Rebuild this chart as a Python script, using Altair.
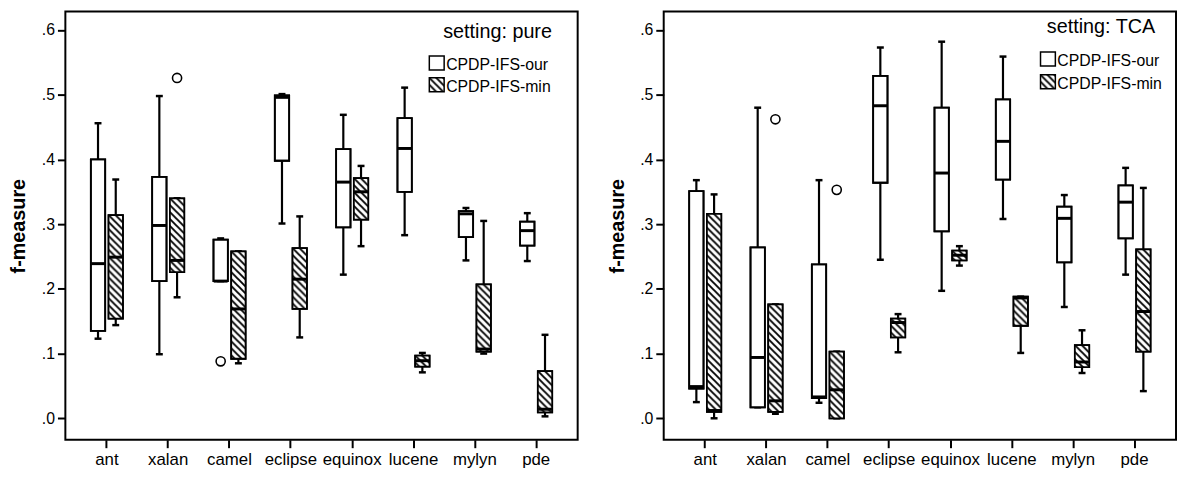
import base64
import altair as alt
import pandas as pd

projects = ["ant", "xalan", "camel", "eclipse", "equinox", "lucene", "mylyn", "pde"]
methods = ["CPDP-IFS-our", "CPDP-IFS-min"]

# ---- setting: pure ----
pure_our_lo = [0.123, 0.099, 0.212, 0.301, 0.222, 0.283, 0.244, 0.243]
pure_our_q1 = [0.135, 0.212, 0.212, 0.398, 0.295, 0.350, 0.280, 0.267]
pure_our_med = [0.239, 0.298, 0.212, 0.496, 0.365, 0.417, 0.316, 0.290]
pure_our_q3 = [0.400, 0.373, 0.276, 0.499, 0.416, 0.464, 0.320, 0.304]
pure_our_hi = [0.456, 0.498, 0.278, 0.501, 0.469, 0.511, 0.325, 0.317]

pure_min_lo = [0.144, 0.187, 0.085, 0.125, 0.266, 0.071, 0.100, 0.003]
pure_min_q1 = [0.154, 0.226, 0.092, 0.169, 0.307, 0.080, 0.103, 0.009]
pure_min_med = [0.249, 0.244, 0.169, 0.215, 0.350, 0.089, 0.107, 0.014]
pure_min_q3 = [0.314, 0.340, 0.258, 0.263, 0.371, 0.097, 0.207, 0.073]
pure_min_hi = [0.369, 0.340, 0.258, 0.312, 0.390, 0.101, 0.305, 0.129]

pure_out_project = ["xalan", "camel"]
pure_out_method = ["CPDP-IFS-min", "CPDP-IFS-our"]
pure_out_value = [0.526, 0.088]

# ---- setting: TCA ----
tca_our_lo = [0.025, 0.017, 0.024, 0.245, 0.197, 0.308, 0.172, 0.222]
tca_our_q1 = [0.046, 0.017, 0.031, 0.364, 0.289, 0.369, 0.241, 0.278]
tca_our_med = [0.049, 0.094, 0.033, 0.483, 0.379, 0.428, 0.309, 0.334]
tca_our_q3 = [0.351, 0.264, 0.238, 0.529, 0.480, 0.493, 0.327, 0.360]
tca_our_hi = [0.368, 0.480, 0.368, 0.573, 0.582, 0.559, 0.345, 0.387]

tca_min_lo = [0.000, 0.007, 0.000, 0.102, 0.236, 0.101, 0.070, 0.042]
tca_min_q1 = [0.010, 0.010, 0.000, 0.125, 0.244, 0.143, 0.079, 0.103]
tca_min_med = [0.012, 0.027, 0.044, 0.148, 0.252, 0.186, 0.087, 0.165]
tca_min_q3 = [0.316, 0.176, 0.103, 0.154, 0.259, 0.188, 0.113, 0.261]
tca_min_hi = [0.346, 0.176, 0.103, 0.161, 0.266, 0.188, 0.136, 0.356]

tca_out_project = ["xalan", "camel"]
tca_out_method = ["CPDP-IFS-min", "CPDP-IFS-min"]
tca_out_value = [0.462, 0.353]

FONT = "Liberation Sans"

hatch_svg = (
    '<svg xmlns="http://www.w3.org/2000/svg">'
    '<defs><pattern id="h" width="7" height="7" patternUnits="userSpaceOnUse">'
    '<rect width="7" height="7" fill="white"/>'
    '<path d="M-1,-1L8,8M-8,-1L1,8M6,-1L15,8" stroke="black" stroke-width="1.9"/>'
    '</pattern></defs>'
    '<rect width="100%" height="100%" fill="url(#h)"/></svg>'
)
hatch_uri = "data:image/svg+xml;base64," + base64.b64encode(hatch_svg.encode()).decode()


def make_df(our, mn):
    rows = []
    for m, stats in zip(methods, [our, mn]):
        lo, q1, med, q3, hi = stats
        for i, p in enumerate(projects):
            rows.append(dict(project=p, method=m, lo=lo[i], q1=q1[i], med=med[i], q3=q3[i], hi=hi[i]))
    return pd.DataFrame(rows)


pure_df = make_df(
    (pure_our_lo, pure_our_q1, pure_our_med, pure_our_q3, pure_our_hi),
    (pure_min_lo, pure_min_q1, pure_min_med, pure_min_q3, pure_min_hi),
)
tca_df = make_df(
    (tca_our_lo, tca_our_q1, tca_our_med, tca_our_q3, tca_our_hi),
    (tca_min_lo, tca_min_q1, tca_min_med, tca_min_q3, tca_min_hi),
)
pure_out = pd.DataFrame(dict(project=pure_out_project, method=pure_out_method, value=pure_out_value))
tca_out = pd.DataFrame(dict(project=tca_out_project, method=tca_out_method, value=tca_out_value))

W, H = 518, 433
y_scale = alt.Scale(domain=[-0.0332, 0.6286], nice=False, zero=False)
x_scale = alt.Scale(paddingInner=0, paddingOuter=0.177)
xo_scale = alt.Scale(paddingInner=0.19, paddingOuter=0.825)

x_axis = alt.Axis(
    title=None, labelAngle=0, domain=False, ticks=True, tickSize=8, tickWidth=2,
    tickColor="black", labelColor="black", labelFont=FONT, labelFontSize=17, labelPadding=4,
)
y_axis = alt.Axis(
    title="f-measure", values=[0, 0.1, 0.2, 0.3, 0.4, 0.5, 0.6],
    labelExpr="replace(format(datum.value, '.1f'), '0.', '.')",
    domain=False, grid=False, tickSize=8, tickWidth=2, tickColor="black",
    labelColor="black", labelFont=FONT, labelFontSize=16, labelPadding=3,
    titleFont=FONT, titleFontSize=20, titleFontWeight="bold", titleColor="black",
    titlePadding=13, minExtent=24, maxExtent=24,
)


def Y(field):
    return alt.Y(field, scale=y_scale, axis=y_axis)


def panel(df, out, label, leg):
    X = alt.X("project:N", sort=projects, scale=x_scale, axis=x_axis)
    XO = alt.XOffset("method:N", sort=methods, scale=xo_scale)
    base = alt.Chart(df).encode(x=X, xOffset=XO)

    whisk_lo = base.mark_rule(color="black", strokeWidth=2.2, opacity=1).encode(y=Y("lo:Q"), y2="q1:Q")
    whisk_hi = base.mark_rule(color="black", strokeWidth=2.2, opacity=1).encode(y=Y("q3:Q"), y2="hi:Q")
    cap_lo = base.mark_tick(color="black", size=7, thickness=2.5, opacity=1).encode(y=Y("lo:Q"))
    cap_hi = base.mark_tick(color="black", size=7, thickness=2.5, opacity=1).encode(y=Y("hi:Q"))
    box = base.mark_bar(fill="white", stroke="black", strokeWidth=1.8, opacity=1).encode(y=Y("q1:Q"), y2="q3:Q")
    hatch = base.transform_filter(alt.datum.method == methods[1]).mark_image(aspect=False).encode(
        y=Y("q1:Q"), y2="q3:Q", url=alt.value(hatch_uri))
    outline = base.mark_bar(fill="white", fillOpacity=0, stroke="black", strokeWidth=1.8).encode(
        y=Y("q1:Q"), y2="q3:Q")
    median = base.mark_tick(color="black", size=14, thickness=3, opacity=1).encode(y=Y("med:Q"))
    outl = alt.Chart(out).mark_point(shape="circle", size=85, filled=False, color="black",
                                     strokeWidth=1.6, opacity=1).encode(
        x=X, xOffset=XO, y=Y("value:Q"))

    title = alt.Chart(pd.DataFrame({"t": [label]})).mark_text(
        font=FONT, fontSize=20, align="right", baseline="alphabetic", color="black"
    ).encode(text="t:N", x=alt.value(leg["tx"]), y=alt.value(leg["ty"]))
    sx = leg["sx"]
    sq_our = alt.Chart(pd.DataFrame({"m": [methods[0]]})).mark_rect(
        fill="white", stroke="black", strokeWidth=1.5
    ).encode(x=alt.value(sx), x2=alt.value(sx + 15),
             y=alt.value(leg["sy"][0]), y2=alt.value(leg["sy"][0] + 14))
    sq_min_img = alt.Chart(pd.DataFrame({"m": [methods[1]]})).mark_image(aspect=False).encode(
        x=alt.value(sx), x2=alt.value(sx + 15),
        y=alt.value(leg["sy"][1]), y2=alt.value(leg["sy"][1] + 14), url=alt.value(hatch_uri))
    sq_min = alt.Chart(pd.DataFrame({"m": [methods[1]]})).mark_rect(
        fill="white", fillOpacity=0, stroke="black", strokeWidth=1.5
    ).encode(x=alt.value(sx), x2=alt.value(sx + 15),
             y=alt.value(leg["sy"][1]), y2=alt.value(leg["sy"][1] + 14))
    txt_our = alt.Chart(pd.DataFrame({"m": [methods[0]]})).mark_text(
        font=FONT, fontSize=16, align="left", baseline="alphabetic", color="black"
    ).encode(text="m:N", x=alt.value(sx + 17), y=alt.value(leg["sy"][0] + 14))
    txt_min = alt.Chart(pd.DataFrame({"m": [methods[1]]})).mark_text(
        font=FONT, fontSize=16, align="left", baseline="alphabetic", color="black"
    ).encode(text="m:N", x=alt.value(sx + 17), y=alt.value(leg["sy"][1] + 14))

    return alt.layer(whisk_lo, whisk_hi, cap_lo, cap_hi, box, hatch, outline, median, outl,
                     title, sq_our, sq_min_img, sq_min, txt_our, txt_min).properties(width=W, height=H)


left = panel(pure_df, pure_out, "setting: pure", dict(tx=492, ty=26.5, sx=368, sy=[45, 67]))
right = panel(tca_df, tca_out, "setting: TCA", dict(tx=497, ty=21.5, sx=381, sy=[41, 64]))

chart = alt.hconcat(left, right, spacing=28).properties(
    padding={"left": 0, "top": 0, "right": 0, "bottom": 0}
).configure_view(stroke="black", strokeWidth=2)

chart.save("out.html", embed_options={"renderer": "svg", "actions": False})
